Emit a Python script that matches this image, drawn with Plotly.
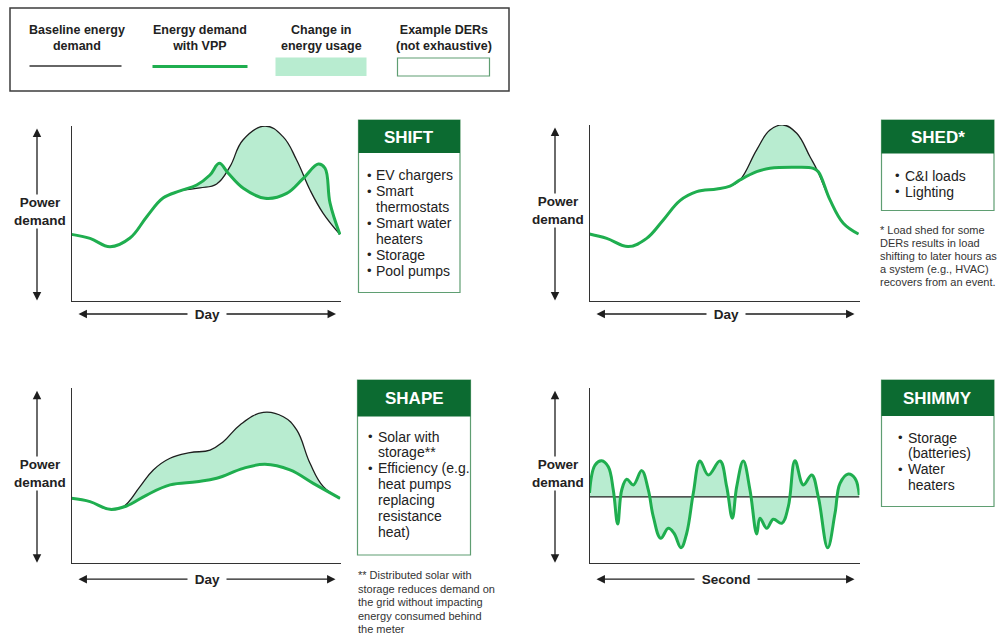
import plotly.graph_objects as go

W, H = 1006, 636

# ---- curve data (x = hour of day / tick index, y = relative power demand) ----
shift_hours_base = [0, 1.65, 3.43, 5.21, 6.70, 8.15, 9.66, 11.44, 12.93, 14.11, 15.27, 17.23, 18.83, 20.05, 21.24, 22.40, 23.9]
shift_base = [37.9, 35.6, 30.8, 35.8, 48.0, 58.7, 62.8, 64.5, 66.8, 76.7, 92.0, 100, 93.9, 80.5, 63.3, 50.1, 37.9]
shift_hours_vpp = [0, 1.65, 3.43, 5.21, 6.70, 8.15, 9.66, 11.15, 12.33, 13.16, 13.96, 15.30, 17.23, 19.16, 20.64, 21.98, 22.58, 23.02, 23.9]
shift_vpp = [37.9, 35.6, 30.8, 35.8, 48.0, 58.7, 62.8, 66.2, 71.9, 78.6, 72.9, 64.3, 58.6, 61.4, 70.0, 78.2, 75.8, 55.9, 37.9]

shed_hours_base = [0, 1.53, 3.45, 5.08, 6.56, 8.04, 9.53, 11.31, 12.49, 13.38, 14.86, 16.04, 17.23, 18.42, 19.60, 20.20, 21.38, 22.56, 23.9]
shed_base = [37.9, 35.4, 30.7, 35.4, 45.9, 56.9, 62.0, 63.5, 65.2, 68.7, 85.8, 97.1, 100, 95.3, 81.9, 74.8, 57.3, 44.0, 37.9]
shed_hours_vpp = [0, 1.53, 3.45, 5.08, 6.56, 8.04, 9.53, 11.31, 12.49, 13.38, 14.86, 16.04, 18.42, 19.89, 20.34, 21.38, 22.56, 23.9]
shed_vpp = [37.9, 35.4, 30.7, 35.4, 45.9, 56.9, 62.0, 63.5, 65.2, 68.7, 73.4, 75.3, 75.9, 75.3, 73.4, 57.3, 44.0, 37.9]

shape_hours_base = [0, 1.65, 3.43, 4.62, 6.11, 7.30, 8.79, 10.57, 12.36, 13.54, 15.03, 17.11, 18.90, 20.09, 21.28, 22.47, 23.96]
shape_base = [36.9, 35.0, 30.6, 32.1, 43.6, 53.2, 59.9, 63.1, 64.6, 69.4, 79.0, 86.2, 83.7, 76.1, 57.0, 43.6, 36.9]
shape_hours_vpp = [0, 1.65, 3.43, 4.91, 6.71, 8.79, 11.17, 12.95, 15.33, 17.26, 19.49, 21.57, 23.96]
shape_vpp = [36.9, 35.0, 30.6, 32.5, 38.8, 44.6, 46.4, 48.4, 54.1, 56.4, 53.2, 45.5, 36.9]

shimmy_ticks_base = [0, 100]
shimmy_base = [37.8, 37.8]
shimmy_ticks_vpp = [0, 2.04, 4.52, 6.96, 8.81, 10.44, 11.93, 13.78, 16.22, 19.33, 21.78, 23.63, 26.37,
                    29.19, 31.30, 33.89, 36.0, 38.44, 40.93, 44.0, 48.33, 50.81, 52.89, 54.52, 56.96,
                    59.44, 61.93, 63.15, 65.63, 68.07, 71.19, 73.63, 76.11, 79.19, 82.3, 84.74, 88.22,
                    90.93, 92.78, 95.85, 98.33, 99.93]
shimmy_vpp = [40.0, 56.0, 58.5, 55.0, 41.7, 22.2, 41.7, 47.8, 44.6, 52.8, 41.7, 26.4, 14.0,
              19.7, 16.9, 8.6, 16.9, 39.8, 58.3, 50.3, 58.3, 43.6, 25.5, 43.6, 58.3,
              41.7, 16.5, 25.5, 19.7, 24.9, 22.6, 32.1, 58.5, 44.6, 50.3, 37.8, 8.6,
              28.3, 45.5, 50.9, 48.4, 38.8]

# ---- text content ----
legend_titles = ["Baseline energy<br>demand", "Energy demand<br>with VPP",
                 "Change in<br>energy usage", "Example DERs<br>(not exhaustive)"]
box_titles = ["SHIFT", "SHED*", "SHAPE", "SHIMMY"]
box_items = [
    [("•", "EV chargers"), ("•", "Smart"), ("", "thermostats"), ("•", "Smart water"),
     ("", "heaters"), ("•", "Storage"), ("•", "Pool pumps")],
    [("•", "C&I loads"), ("•", "Lighting")],
    [("•", "Solar with"), ("", "storage**"), ("•", "Efficiency (e.g."), ("", "heat pumps"),
     ("", "replacing"), ("", "resistance"), ("", "heat)")],
    [("•", "Storage"), ("", "(batteries)"), ("•", "Water"), ("", "heaters")],
]
shed_note = ["* Load shed for some", "DERs results in load", "shifting to later hours as",
             "a system (e.g., HVAC)", "recovers from an event."]
shape_note = ["** Distributed solar with", "storage reduces demand on", "the grid without impacting",
              "energy consumed behind", "the meter"]
x_labels = ["Day", "Day", "Day", "Second"]

# ---- styling ----
FONT = "Arial, Liberation Sans, Helvetica, sans-serif"
GREEN = "#1fae4f"
FILL = "#b8ecd0"
DARK_GREEN = "#0c6b31"
BOX_EDGE = "#5f9e72"
INK = "#222222"


def px(x):
    return x / W


def py(y):
    return 1 - y / H


# pixel frames of the four plot areas: left, right, top, bottom
frames = [(71.5, 341, 126, 300.5), (589.5, 859.5, 125, 300.5),
          (71.5, 340.5, 388.3, 562.7), (589.5, 859.5, 388.3, 562.7)]
x_ranges = [[0, 24], [0, 24], [0, 24], [0, 100]]
series = [
    (shift_hours_base, shift_base, shift_hours_vpp, shift_vpp),
    (shed_hours_base, shed_base, shed_hours_vpp, shed_vpp),
    (shape_hours_base, shape_base, shape_hours_vpp, shape_vpp),
    (shimmy_ticks_base, shimmy_base, shimmy_ticks_vpp, shimmy_vpp),
]

fig = go.Figure()
layout = dict(width=W, height=H, margin=dict(l=0, r=0, t=0, b=0),
              paper_bgcolor="white", plot_bgcolor="white", showlegend=False,
              font=dict(family=FONT, color=INK))

for i, ((l, r, t, b), xr, (bx, by, vx, vy)) in enumerate(zip(frames, x_ranges, series)):
    n = "" if i == 0 else str(i + 1)
    xa, ya = "x" + n, "y" + n
    base_line = dict(shape="linear") if i == 3 else dict(shape="spline", smoothing=1.2)
    fig.add_trace(go.Scatter(x=bx, y=by, xaxis=xa, yaxis=ya, mode="lines",
                             line=dict(color="#1e1e1e", width=1.3, **base_line),
                             cliponaxis=False, hoverinfo="skip"))
    fig.add_trace(go.Scatter(x=vx, y=vy, xaxis=xa, yaxis=ya, mode="lines",
                             line=dict(color=GREEN, width=3, shape="spline", smoothing=1.1),
                             fill="tonexty", fillcolor=FILL,
                             cliponaxis=False, hoverinfo="skip"))
    axis_style = dict(showgrid=False, zeroline=False, showticklabels=False, ticks="",
                      showline=True, linecolor="#333333", linewidth=1.4, fixedrange=True)
    layout["xaxis" + n] = dict(domain=[px(l), px(r)], range=xr, anchor=ya, **axis_style)
    layout["yaxis" + n] = dict(domain=[py(b), py(t)], range=[0, 100], anchor=xa, **axis_style)

shapes = []
annotations = []


def text(x, y, s, size, bold=False, color=INK, xanchor="center", bg=None):
    annotations.append(dict(
        x=px(x), y=py(y), xref="paper", yref="paper", showarrow=False,
        text=f"<b>{s}</b>" if bold else s, xanchor=xanchor, yanchor="middle",
        font=dict(size=size, color=color, family=FONT), align="center" if xanchor == "center" else "left",
        bgcolor=bg, borderpad=0))


def arrow(x0, y0, x1, y1):
    annotations.append(dict(
        x=px(x1), y=py(y1), xref="paper", yref="paper", ax=x0 - x1, ay=y0 - y1,
        axref="pixel", ayref="pixel", text="", showarrow=True,
        arrowhead=2, startarrowhead=2, arrowside="end+start",
        arrowsize=1.3, startarrowsize=1.3, arrowwidth=1.3, arrowcolor="#1e1e1e"))


def rect(x0, y0, x1, y1, line_color, width, fill="rgba(0,0,0,0)"):
    shapes.append(dict(type="rect", xref="paper", yref="paper", x0=px(x0), x1=px(x1),
                       y0=py(y1), y1=py(y0), line=dict(color=line_color, width=width),
                       fillcolor=fill, layer="above"))


# legend panel
rect(10, 8, 509, 91, "#3c3c3c", 1.5)
for cx, s in zip([76.5, 200, 321.5, 443.5], legend_titles):
    text(cx, 38, s, 12.5, bold=True)
shapes.append(dict(type="line", xref="paper", yref="paper", x0=px(29.5), x1=px(121.5),
                   y0=py(66), y1=py(66), line=dict(color="#333333", width=1.4)))
shapes.append(dict(type="line", xref="paper", yref="paper", x0=px(152.5), x1=px(247.5),
                   y0=py(66.5), y1=py(66.5), line=dict(color=GREEN, width=3)))
rect(275.5, 57.5, 366.5, 76, FILL, 0, fill=FILL)
rect(397.5, 58, 489.5, 76, BOX_EDGE, 1.2)

# axis arrows and captions
for (l, r, t, b), lab in zip(frames, x_labels):
    ax_x = l - 34.5
    arrow(ax_x, t + 1, ax_x, b)
    text(ax_x + 3, (t + b) / 2 - 2, "Power<br>demand", 13.5, bold=True, bg="white")
    ya = b + 13.5 if b < 400 else b + 16.5
    arrow(l + 5.5, ya, r - 5, ya)
    text((l + r) / 2 + 1, ya, "\u2002" + lab + "\u2002", 13.5, bold=True, bg="white")

# DER example boxes: left, right, top, header bottom, bottom, bullet x, text x, first line y
boxes = [(358.5, 460, 120, 153, 292.5, 366.5, 375, 175.5),
         (881.5, 994, 120, 153.5, 210.5, 894.5, 904, 176),
         (357.5, 470.5, 380, 416.5, 555, 368, 376.5, 436.5),
         (881.5, 994, 380, 416, 506.5, 897.5, 906.5, 437.5)]
for (l, r, t, hb, b, bx, tx, y0), title, items in zip(boxes, box_titles, box_items):
    rect(l, t, r, b, BOX_EDGE, 1.2)
    shapes.append(dict(type="rect", xref="paper", yref="paper", x0=px(l), x1=px(r),
                       y0=py(hb), y1=py(t), line=dict(color=DARK_GREEN, width=0),
                       fillcolor=DARK_GREEN, layer="above"))
    text((l + r) / 2, (t + hb) / 2 + 0.5, title, 17, bold=True, color="white")
    for k, (bullet, s) in enumerate(items):
        yy = y0 + k * 15.9
        if bullet:
            text(bx - 1, yy, bullet, 13, xanchor="left")
        text(tx, yy, s, 14, xanchor="left")

# footnotes
for k, s in enumerate(shed_note):
    text(878.5, 230 + k * 13, s, 11, xanchor="left", color="#333333")
for k, s in enumerate(shape_note):
    text(357, 575 + k * 13.5, s, 11, xanchor="left", color="#333333")

layout["shapes"] = shapes
layout["annotations"] = annotations
fig.update_layout(**layout)
fig.write_html("out.html")
